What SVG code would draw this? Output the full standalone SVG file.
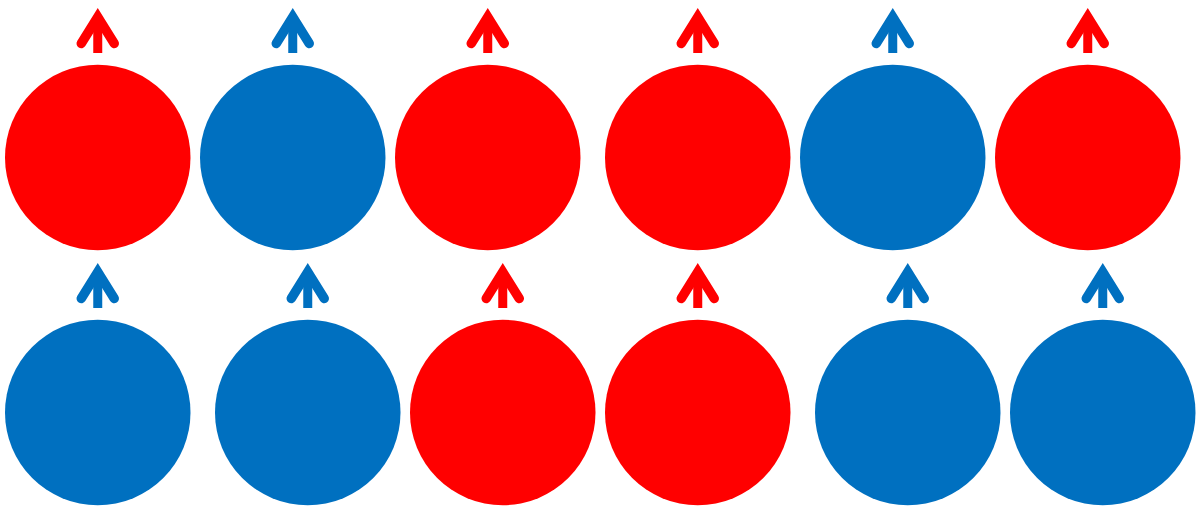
<svg xmlns="http://www.w3.org/2000/svg" xmlns:xlink="http://www.w3.org/1999/xlink" width="1198" height="507" viewBox="0 0 1198 507">
<defs>
<style>
.red{fill:#FF0000;stroke:#FF0000}
.blue{fill:#0070C0;stroke:#0070C0}
.ball{stroke:none}
.head{fill:none;stroke-width:9.5;stroke-linecap:round;stroke-linejoin:miter;stroke-miterlimit:10}
.shaft{fill:none;stroke-width:9;stroke-linecap:butt}
</style>
<g id="arrow">
<polyline class="head" points="-16.5,43.5 0,17 16.5,43.5"/>
<line class="shaft" x1="0" y1="20" x2="0" y2="53"/>
</g>
</defs>
<rect width="1198" height="507" fill="#FFFFFF"/>
<g id="connectors"></g>
<g id="r1n1" class="red"><circle class="ball" cx="97.75" cy="157.5" r="92.75"/><use xlink:href="#arrow" x="97.75" y="0"/></g>
<g id="r1n2" class="blue"><circle class="ball" cx="292.75" cy="157.5" r="92.75"/><use xlink:href="#arrow" x="292.75" y="0"/></g>
<g id="r1n3" class="red"><circle class="ball" cx="487.75" cy="157.5" r="92.75"/><use xlink:href="#arrow" x="487.75" y="0"/></g>
<g id="r1n4" class="red"><circle class="ball" cx="697.75" cy="157.5" r="92.75"/><use xlink:href="#arrow" x="697.75" y="0"/></g>
<g id="r1n5" class="blue"><circle class="ball" cx="892.75" cy="157.5" r="92.75"/><use xlink:href="#arrow" x="892.75" y="0"/></g>
<g id="r1n6" class="red"><circle class="ball" cx="1087.75" cy="157.5" r="92.75"/><use xlink:href="#arrow" x="1087.75" y="0"/></g>
<g id="r2n1" class="blue"><circle class="ball" cx="97.75" cy="412.5" r="92.75"/><use xlink:href="#arrow" x="97.75" y="255"/></g>
<g id="r2n2" class="blue"><circle class="ball" cx="307.75" cy="412.5" r="92.75"/><use xlink:href="#arrow" x="307.75" y="255"/></g>
<g id="r2n3" class="red"><circle class="ball" cx="502.75" cy="412.5" r="92.75"/><use xlink:href="#arrow" x="502.75" y="255"/></g>
<g id="r2n4" class="red"><circle class="ball" cx="697.75" cy="412.5" r="92.75"/><use xlink:href="#arrow" x="697.75" y="255"/></g>
<g id="r2n5" class="blue"><circle class="ball" cx="907.75" cy="412.5" r="92.75"/><use xlink:href="#arrow" x="907.75" y="255"/></g>
<g id="r2n6" class="blue"><circle class="ball" cx="1102.75" cy="412.5" r="92.75"/><use xlink:href="#arrow" x="1102.75" y="255"/></g>
</svg>
